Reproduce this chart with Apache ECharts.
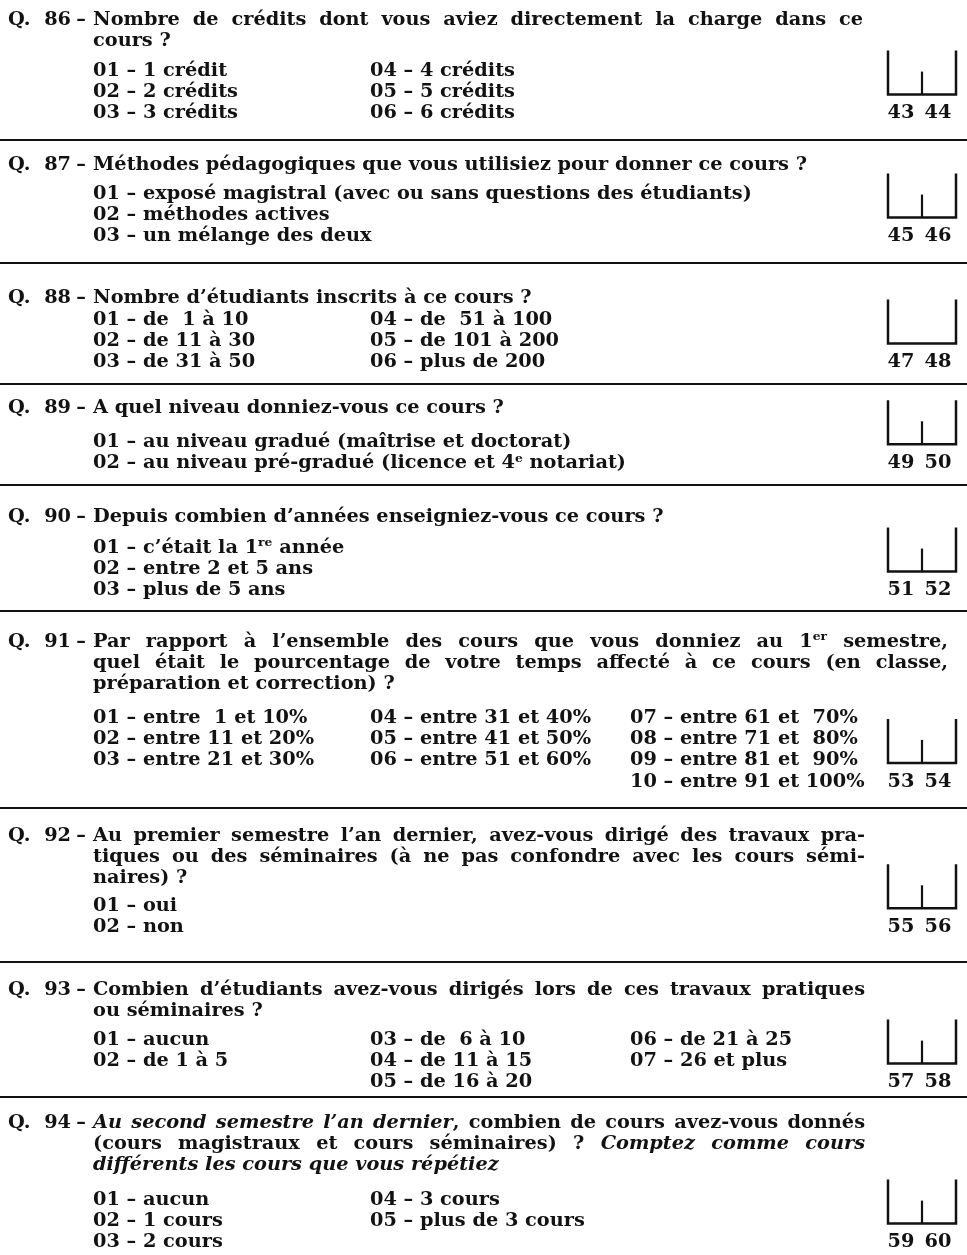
<!DOCTYPE html>
<html>
<head>
<meta charset="utf-8">
<script src="https://cdn.jsdelivr.net/npm/echarts@6/dist/echarts.min.js"></script>
<style>
html,body{margin:0;padding:0;background:#fff;}
#chart{width:967px;height:1255px;}
</style>
</head>
<body>
<div id="chart"></div>
<script>
// ---------------- DATA ----------------
const questionNumbers = ['86','87','88','89','90','91','92','93','94'];

// '*' toggles italic, '^' toggles superscript
const questionLines = [
  ['Nombre de crédits dont vous aviez directement la charge dans ce', 'cours ?'],
  ['Méthodes pédagogiques que vous utilisiez pour donner ce cours ?'],
  ['Nombre d’étudiants inscrits à ce cours ?'],
  ['A quel niveau donniez-vous ce cours ?'],
  ['Depuis combien d’années enseigniez-vous ce cours ?'],
  ['Par rapport à l’ensemble des cours que vous donniez au 1^er^ semestre,',
   'quel était le pourcentage de votre temps affecté à ce cours (en classe,',
   'préparation et correction) ?'],
  ['Au premier semestre l’an dernier, avez-vous dirigé des travaux pra-',
   'tiques ou des séminaires (à ne pas confondre avec les cours sémi-',
   'naires) ?'],
  ['Combien d’étudiants avez-vous dirigés lors de ces travaux pratiques',
   'ou séminaires ?'],
  ['*Au second semestre l’an dernier*, combien de cours avez-vous donnés',
   '(cours magistraux et cours séminaires) ? *Comptez comme cours*',
   '*différents les cours que vous répétiez*']
];

const answersQ86 = [['01 – 1 crédit','02 – 2 crédits','03 – 3 crédits'],
                    ['04 – 4 crédits','05 – 5 crédits','06 – 6 crédits']];
const answersQ87 = [['01 – exposé magistral (avec ou sans questions des étudiants)',
                     '02 – méthodes actives','03 – un mélange des deux']];
const answersQ88 = [['01 – de  1 à 10','02 – de 11 à 30','03 – de 31 à 50'],
                    ['04 – de  51 à 100','05 – de 101 à 200','06 – plus de 200']];
const answersQ89 = [['01 – au niveau gradué (maîtrise et doctorat)',
                     '02 – au niveau pré-gradué (licence et 4^e^ notariat)']];
const answersQ90 = [['01 – c’était la 1^re^ année','02 – entre 2 et 5 ans','03 – plus de 5 ans']];
const answersQ91 = [['01 – entre  1 et 10%','02 – entre 11 et 20%','03 – entre 21 et 30%'],
                    ['04 – entre 31 et 40%','05 – entre 41 et 50%','06 – entre 51 et 60%'],
                    ['07 – entre 61 et  70%','08 – entre 71 et  80%','09 – entre 81 et  90%','10 – entre 91 et 100%']];
const answersQ92 = [['01 – oui','02 – non']];
const answersQ93 = [['01 – aucun','02 – de 1 à 5'],
                    ['03 – de  6 à 10','04 – de 11 à 15','05 – de 16 à 20'],
                    ['06 – de 21 à 25','07 – 26 et plus']];
const answersQ94 = [['01 – aucun','02 – 1 cours','03 – 2 cours'],
                    ['04 – 3 cours','05 – plus de 3 cours']];
const answerColumns = [answersQ86, answersQ87, answersQ88, answersQ89, answersQ90,
                       answersQ91, answersQ92, answersQ93, answersQ94];

const cardColumns = [['43','44'],['45','46'],['47','48'],['49','50'],['51','52'],
                     ['53','54'],['55','56'],['57','58'],['59','60']];
const boxHasDivider = [true, true, false, true, true, true, true, true, true];

// ---------------- LAYOUT ----------------
const FONT_FAMILY = '"DejaVu Serif", "Liberation Serif", serif';
const FONT_SIZE = 18;
const SUP_SIZE = 11.5;
const INK = '#121212';
const LINE_GAP = 21.3;
const TEXT_LEFT = 93;
const COLUMN_X = [93, 370, 630];
const titleY = [20, 165, 298, 408, 517, 642, 836, 990, 1123];
const optionY = [71, 194, 320, 442, 548, 718, 906, 1040, 1200];
// right edges of justified title lines (null = natural width)
const justifyRight = [
  [863, null], [null], [null], [null], [null],
  [948, 948, null], [865, 865, null], [865, null], [865, 865, null]
];
const separatorY = [140, 263, 384, 485, 611, 808, 962, 1097];
const BOX_LEFT = 888, BOX_RIGHT = 956, BOX_MID = 922;
const CARD_X = [901, 938];
const REF_WIDTH = 714; // width of Q87 title line in the reference

// ---------------- HELPERS ----------------
const ctx = document.createElement('canvas').getContext('2d');
function fontOf(run) {
  return (run.italic ? 'italic ' : '') + 'bold ' + (run.sup ? SUP_SIZE : FONT_SIZE) + 'px ' + FONT_FAMILY;
}
function parse(str) {
  const runs = [];
  let italic = false, sup = false, cur = '';
  const flush = () => { if (cur) runs.push({ t: cur, italic, sup }); cur = ''; };
  for (const ch of str) {
    if (ch === '*') { flush(); italic = !italic; }
    else if (ch === '^') { flush(); sup = !sup; }
    else cur += ch;
  }
  flush();
  return runs;
}
function measure(runs) {
  let w = 0;
  runs.forEach(r => { ctx.font = fontOf(r); w += ctx.measureText(r.t).width; });
  return w;
}
function styleName(r) { return r.sup ? 's' : (r.italic ? 'i' : 'b'); }
function richText(runs) {
  return runs.map(r => '{' + styleName(r) + '|' + r.t + '}').join('');
}
const RICH = {
  b: { fontFamily: FONT_FAMILY, fontSize: FONT_SIZE, fontWeight: 'bold', fill: INK, lineHeight: 21 },
  i: { fontFamily: FONT_FAMILY, fontSize: FONT_SIZE, fontWeight: 'bold', fontStyle: 'italic', fill: INK, lineHeight: 21 },
  s: { fontFamily: FONT_FAMILY, fontSize: SUP_SIZE, fontWeight: 'bold', fill: INK, lineHeight: 21, verticalAlign: 'top' }
};

const SX = REF_WIDTH / measure(parse(questionLines[1][0]));

const elements = [];
function addText(runs, x, y, align) {
  elements.push({
    type: 'text', x: x, y: y, scaleX: SX, silent: true,
    style: { text: richText(runs), rich: RICH, align: align || 'left', verticalAlign: 'middle',
             fontFamily: FONT_FAMILY, fontSize: FONT_SIZE, fontWeight: 'bold', fill: INK }
  });
}
function addLine(str, x, y, right) {
  const runs = parse(str);
  if (right == null) { addText(runs, x, y); return; }
  // justify: split into words
  const words = [[]];
  runs.forEach(r => {
    r.t.split(' ').forEach((part, i) => {
      if (i > 0) words.push([]);
      if (part) words[words.length - 1].push({ t: part, italic: r.italic, sup: r.sup });
    });
  });
  const ws = words.filter(w => w.length);
  const widths = ws.map(w => measure(w) * SX);
  const total = widths.reduce((a, b) => a + b, 0);
  const gap = ws.length > 1 ? (right - x - total) / (ws.length - 1) : 0;
  let cx = x;
  ws.forEach((w, i) => { addText(w, cx, y); cx += widths[i] + gap; });
}

// ---------------- BUILD ----------------
questionNumbers.forEach((num, q) => {
  const ty = titleY[q];
  addText([{ t: 'Q.' }], 8, ty);
  addText([{ t: num }], 71, ty, 'right');
  addText([{ t: '–' }], 81, ty, 'center');
  questionLines[q].forEach((line, i) => {
    addLine(line, TEXT_LEFT, ty + i * LINE_GAP, justifyRight[q][i]);
  });
  let maxRows = 0;
  answerColumns[q].forEach((col, c) => {
    maxRows = Math.max(maxRows, col.length);
    col.forEach((opt, r) => addLine(opt, COLUMN_X[c], optionY[q] + r * LINE_GAP, null));
  });
  const labelY = optionY[q] + (maxRows - 1) * LINE_GAP;
  const bottom = labelY - 19;
  const top = bottom - 44;
  elements.push({
    type: 'polyline', silent: true,
    shape: { points: [[BOX_LEFT, top], [BOX_LEFT, bottom], [BOX_RIGHT, bottom], [BOX_RIGHT, top]] },
    style: { stroke: INK, lineWidth: 2.5, fill: null }
  });
  if (boxHasDivider[q]) {
    elements.push({
      type: 'line', silent: true,
      shape: { x1: BOX_MID, y1: bottom - 23, x2: BOX_MID, y2: bottom },
      style: { stroke: INK, lineWidth: 2.2 }
    });
  }
  cardColumns[q].forEach((code, k) => addText([{ t: code }], CARD_X[k], labelY, 'center'));
});

separatorY.forEach(y => {
  elements.push({
    type: 'line', silent: true,
    shape: { x1: 0, y1: y, x2: 967, y2: y },
    style: { stroke: INK, lineWidth: 2.2 }
  });
});

const chart = echarts.init(document.getElementById('chart'), null, { renderer: 'canvas' });
chart.setOption({
  backgroundColor: '#ffffff',
  animation: false,
  graphic: { elements: elements }
});
</script>
</body>
</html>
